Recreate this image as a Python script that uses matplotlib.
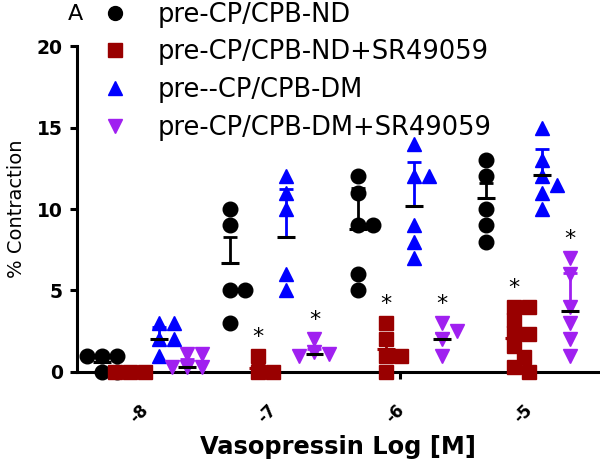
import numpy as np
import matplotlib.pyplot as plt
from matplotlib.lines import Line2D
from matplotlib.transforms import ScaledTranslation

doses = [-8, -7, -6, -5]
xtick_labels = ['-8', '-7', '-6', '-5']
ytick_values = [0, 5, 10, 15, 20]
ytick_labels = ['0', '5', '10', '15', '20']

labels = ['pre-CP/CPB-ND', 'pre-CP/CPB-ND+SR49059', 'pre--CP/CPB-DM', 'pre-CP/CPB-DM+SR49059']
colors = ['black', '#990000', '#0000ff', '#a020f0']
markers = ['o', 's', '^', 'v']

# individual points per dose (-8, -7, -6, -5)
nd = [[1, 1, 1, 0, 0], [10, 9, 5, 5, 3], [12, 11, 9, 9, 6, 5], [13, 12, 10, 9, 8]]
nd_sr = [[0, 0, 0], [1, 0, 0], [3, 2, 1, 1, 0], [4, 4, 3.2, 2.4, 2.3, 1.6, 0.9, 0.3, 0]]
dm = [[3, 3, 2, 2, 1], [12, 11, 10, 6, 5], [14, 12, 12, 9, 8, 7], [15, 13, 12, 11.5, 11, 10]]
dm_sr = [[1.1, 1.1, 0.3, 0.3, 0.3], [2, 1.2, 1.1, 1.0], [3, 2.5, 2, 1], [7, 6, 4, 3, 2, 1]]

# mean and SEM as drawn
nd_mean = [0.6, 6.7, 8.8, 10.7]
nd_err = [0.3, 1.6, 2.5, 0.9]
nd_sr_mean = [0.0, 0.25, 1.4, 2.1]
nd_sr_err = [0.0, 0.25, 0.5, 0.5]
dm_mean = [2.0, 8.3, 10.2, 12.1]
dm_err = [0.75, 2.9, 2.7, 1.6]
dm_sr_mean = [0.3, 1.1, 2.0, 3.75]
dm_sr_err = [0.5, 0.3, 0.4, 2.35]

# significance marks
nd_sr_star = [False, True, True, True]
dm_sr_star = [False, True, True, True]

series = [
    (nd, nd_mean, nd_err, None),
    (nd_sr, nd_sr_mean, nd_sr_err, nd_sr_star),
    (dm, dm_mean, dm_err, None),
    (dm_sr, dm_sr_mean, dm_sr_err, dm_sr_star),
]
offsets = [-0.33, -0.11, 0.11, 0.33]

fig = plt.figure(figsize=(6, 4.66), dpi=100)
ax = fig.add_axes([0.128, 0.202, 0.869, 0.699])
ax.set_xlim(-8.53, -4.45)
ax.set_ylim(0, 20)

# pixels per data unit, from the axes transform
p0 = ax.transData.transform((0, 0))
sx = ax.transData.transform((1, 0))[0] - p0[0]
sy = ax.transData.transform((0, 1))[1] - p0[1]


def swarm(vals, center, d_px=13, step_px=5):
    placed = []
    xs = []
    cands = [0] + [s * i for i in range(1, 30) for s in (1, -1)]
    for v in vals:
        for c in cands:
            ox = c * step_px
            if all(np.hypot(ox - qx, (v - qy) * sy) >= d_px for qx, qy in placed):
                break
        placed.append((ox, v))
        xs.append(center + ox / sx)
    return xs


msizes = [10.5, 9.5, 10, 10]
for i, (pts, means, errs, stars) in enumerate(series):
    c = colors[i]
    for j, d in enumerate(doses):
        xc = d + offsets[i]
        xs = swarm(pts[j], xc)
        ax.plot(xs, pts[j], linestyle='none', marker=markers[i], ms=msizes[i],
                color=c, mec=c, clip_on=False, zorder=3)
        if stars is not None and stars[j]:
            ax.text(xc, max(pts[j]) + 0.8, '*', ha='center', va='baseline',
                    fontsize=16, zorder=6)
    xcs = np.array(doses) + offsets[i]
    ax.errorbar(xcs, means, yerr=[np.zeros(len(errs)), errs], fmt='none',
                ecolor=c, elinewidth=2, capsize=5, capthick=2, zorder=4)
    mean_col = c if i == 1 else 'black'
    ax.hlines(means, xcs - 0.07, xcs + 0.07, colors=mean_col, lw=2.2, zorder=5)

ax.spines[['top', 'right']].set_visible(False)
ax.spines['left'].set_linewidth(2.2)
ax.spines['bottom'].set_linewidth(2.2)
ax.tick_params(direction='out', length=5, width=2.2)
ax.tick_params(axis='y', pad=5)
ax.tick_params(axis='x', pad=16)

ax.set_yticks(ytick_values)
ax.set_yticklabels(ytick_labels, fontweight='bold', fontsize=13.5)
ax.set_xticks(doses)
ax.set_xticklabels(xtick_labels, rotation=45, fontweight='bold', fontsize=12)
shift = ScaledTranslation(-0.05, 0, fig.dpi_scale_trans)
for lab in ax.get_xticklabels():
    lab.set_transform(lab.get_transform() + shift)

ax.set_ylabel('% Contraction', fontsize=14, labelpad=8)
ax.set_xlabel('Vasopressin Log [M]', fontsize=17.4, fontweight='bold', labelpad=6)

handles = [Line2D([], [], linestyle='none', marker=markers[i], color=colors[i],
                  ms=10) for i in range(4)]
fig.legend(handles, labels, loc='upper left', bbox_to_anchor=(102.5 / 600, 0.996),
           frameon=False, fontsize=18.5, handlelength=1.0, handletextpad=1.15,
           labelspacing=0.45, borderpad=0, borderaxespad=0)
fig.text(75 / 600, 1 - 14 / 466, 'A', ha='center', va='center', fontsize=16)

fig.savefig('out.png', dpi=100)
